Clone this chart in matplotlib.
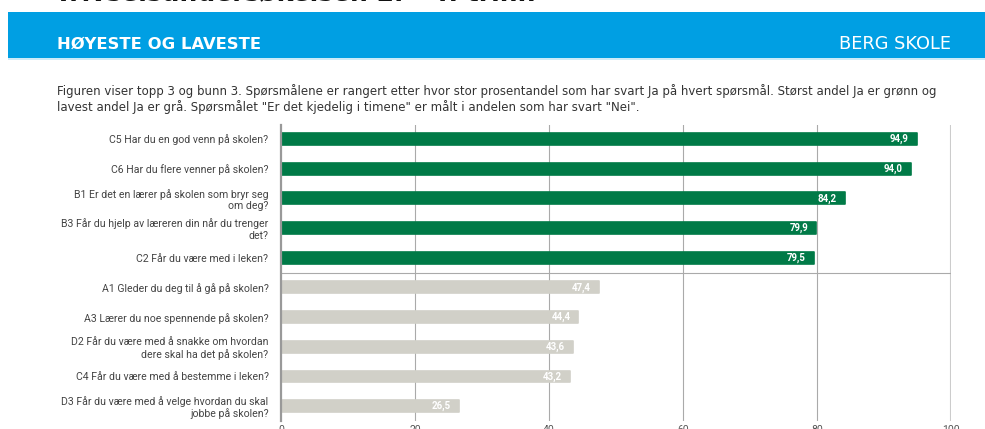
import matplotlib
matplotlib.use("Agg")
import matplotlib.pyplot as plt
from matplotlib.patches import Rectangle

categories = [
    "C5 Har du en god venn på skolen?",
    "C6 Har du flere venner på skolen?",
    "B1 Er det en lærer på skolen som bryr seg\nom deg?",
    "B3 Får du hjelp av læreren din når du trenger\ndet?",
    "C2 Får du være med i leken?",
    "A1 Gleder du deg til å gå på skolen?",
    "A3 Lærer du noe spennende på skolen?",
    "D2 Får du være med å snakke om hvordan\ndere skal ha det på skolen?",
    "C4 Får du være med å bestemme i leken?",
    "D3 Får du være med å velge hvordan du skal\njobbe på skolen?",
]
values = [94.9, 94.0, 84.2, 79.9, 79.5, 47.4, 44.4, 43.6, 43.2, 26.5]
groups = ["top", "top", "top", "top", "top", "bottom", "bottom", "bottom", "bottom", "bottom"]
value_labels = ["94,9", "94,0", "84,2", "79,9", "79,5", "47,4", "44,4", "43,6", "43,2", "26,5"]
x_ticks = [0, 20, 40, 60, 80, 100]

title_text = "Trivselsundersøkelsen 2. - 4. trinn"
header_left = "HØYESTE OG LAVESTE"
header_right = "BERG SKOLE"
description = ("Figuren viser topp 3 og bunn 3. Spørsmålene er rangert etter hvor stor prosentandel som har svart Ja på hvert spørsmål. Størst andel Ja er grønn og\n"
               "lavest andel Ja er grå. Spørsmålet \"Er det kjedelig i timene\" er målt i andelen som har svart \"Nei\".")

GREEN = "#007A47"
GREY = "#D1D0C8"
BLUE = "#009FE3"

W, H = 985, 429
fig = plt.figure(figsize=(W / 100, H / 100), dpi=100)
fig.patch.set_facecolor("white")

# cropped title at very top (only its lower edge is visible)
fig.text(55 / W, 1 - (-7) / H, title_text, ha="left", va="center",
         fontsize=18, fontweight="bold", color="#111111", family="DejaVu Sans")

# blue header band
fig.patches.append(Rectangle((8 / W, 1 - 58 / H), 1 - 8 / W, 46 / H,
                             transform=fig.transFigure, facecolor=BLUE, edgecolor="none"))
fig.patches.append(Rectangle((8 / W, 1 - 60 / H), 1 - 8 / W, 2 / H,
                             transform=fig.transFigure, facecolor="#CDEBF8", edgecolor="none"))
fig.text(57 / W, 1 - 44 / H, header_left, ha="left", va="center",
         fontsize=11.8, fontweight="bold", color="white", family="DejaVu Sans")
fig.text(951 / W, 1 - 44 / H, header_right, ha="right", va="center",
         fontsize=12.8, color="white", family="DejaVu Sans")

fig.text(57 / W, 1 - 99 / H, description, ha="left", va="center",
         fontsize=8.45, color="#333333", family="DejaVu Sans", linespacing=1.2)

# axes
ax_left, ax_right, ax_top, ax_bottom = 281, 951, 125, 421
ax = fig.add_axes([ax_left / W, 1 - ax_bottom / H, (ax_right - ax_left) / W, (ax_bottom - ax_top) / H])
ypos = list(range(len(categories)))
colors = [GREEN if g == "top" else GREY for g in groups]
bars = ax.barh(ypos, values, height=0.40, color=colors, edgecolor=colors,
               linewidth=1.2, zorder=3)
for b in bars:
    b.set_joinstyle("round")

for y, v, lab in zip(ypos, values, value_labels):
    ax.text(v - 1.2, y, lab, ha="right", va="center", fontsize=7,
            color="white", fontweight="bold", family="Roboto", zorder=4)

ax.set_xlim(0, 100)
ax.set_ylim(9.5, -0.47)
ax.set_yticks(ypos)
ax.set_yticklabels(categories, fontsize=7.6, color="#444444", family="Roboto",
                   linespacing=1.15)
ax.set_xticks(x_ticks)
ax.set_xticklabels([str(t) for t in x_ticks], fontsize=7.5, color="#555555", family="Roboto")
ax.tick_params(axis="y", length=0, pad=9)
ax.tick_params(axis="x", length=0, pad=3)
for s in ["top", "right", "bottom"]:
    ax.spines[s].set_visible(False)
ax.spines["left"].set_color("#999999")
ax.spines["left"].set_linewidth(1.6)
ax.spines["left"].set_zorder(5)
for t in x_ticks[1:-1]:
    ax.axvline(t, color="#AAAAAA", linewidth=0.8, zorder=1)
ax.axvline(100, color="#CCCCCC", linewidth=1.5, zorder=1)
ax.axhline(4.5, color="#AAAAAA", linewidth=0.8, zorder=1)

fig.savefig("out.png", dpi=100, facecolor="white")
